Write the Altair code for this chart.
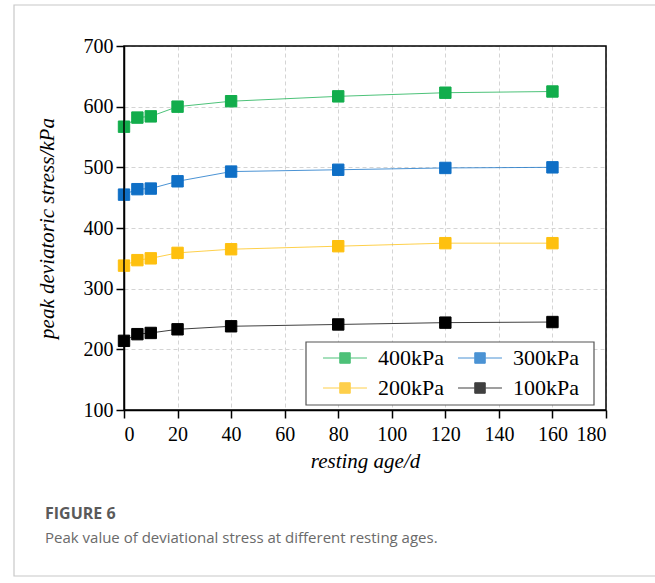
import altair as alt
import pandas as pd

# Resting age (days) and peak deviatoric stress (kPa) for each confining pressure
ages = [0, 5, 10, 20, 40, 80, 120, 160]
s400 = [567, 582, 584, 600, 609, 617, 623, 625]
s300 = [455, 464, 465, 477, 493, 496, 499, 500]
s200 = [338, 347, 350, 359, 365, 370, 375, 375]
s100 = [214, 225, 227, 233, 238, 241, 244, 245]

groups = ["400kPa", "300kPa", "200kPa", "100kPa"]
colors = ["#12ad4c", "#0f6fc6", "#fec00f", "#000000"]
series = [s400, s300, s200, s100]

caption_head = "FIGURE 6"
caption_body = "Peak value of deviational stress at different resting ages."

rows = []
for g, vals in zip(groups, series):
    for a, v in zip(ages, vals):
        rows.append({"age": a, "stress": v, "group": g})
df = pd.DataFrame(rows)

W, H = 482, 364
serif = "Liberation Serif"
sans = "Open Sans"

x = alt.X("age:Q", title="resting age/d",
          scale=alt.Scale(domain=[0, 180], nice=False),
          axis=alt.Axis(values=list(range(0, 181, 20)), format="d"))
y = alt.Y("stress:Q", title="peak deviatoric stress/kPa",
          scale=alt.Scale(domain=[100, 700], nice=False, zero=False),
          axis=alt.Axis(values=list(range(100, 701, 100))))

scale = alt.Scale(domain=groups, range=colors)

# line-through-square legend glyph
glyph = "M-3.14,0L-0.75,0M0.75,0L3.14,0M-0.75,-0.75L0.75,-0.75L0.75,0.75L-0.75,0.75Z"
legend = alt.Legend(
    title=None, orient="none", legendX=210, legendY=301,
    columns=2, direction="horizontal",
    symbolType=glyph, symbolSize=196, symbolStrokeWidth=1,
    labelFont=serif, labelFontSize=22, labelColor="black",
    labelOffset=22, columnPadding=12, rowPadding=8, padding=0,
)

lines = alt.Chart(df).mark_line(strokeWidth=1, opacity=0.75).encode(
    x=x, y=y,
    stroke=alt.Stroke("group:N", scale=scale, legend=legend),
    detail="group:N",
)

points = alt.Chart(df).mark_point(
    shape="square", filled=True, size=130, strokeWidth=1, opacity=1
).encode(
    x=x, y=y,
    fill=alt.Fill("group:N", scale=scale, legend=legend),
    stroke=alt.Stroke("group:N", scale=scale, legend=legend),
)

one = pd.DataFrame({"k": [0]})

# legend box behind the legend entries
legend_box = alt.Chart(one).mark_rect(fill="white", stroke="#555555", strokeWidth=1.2).encode(
    x=alt.value(182), x2=alt.value(470), y=alt.value(296), y2=alt.value(359)
)

# black frame of the plot area, drawn above the grid
frame = alt.Chart(one).mark_rect(fill=None, stroke="black", strokeWidth=1.5).encode(
    x=alt.value(0), x2=alt.value(W), y=alt.value(0), y2=alt.value(H)
)

# card outline around the figure and its caption
card = alt.Chart(one).mark_rect(fill=None, stroke="#c8c8c8", strokeWidth=1.2).encode(
    x=alt.value(-110), x2=alt.value(700), y=alt.value(-41), y2=alt.value(530)
)

head = alt.Chart(pd.DataFrame({"t": [caption_head]})).mark_text(
    align="left", baseline="alphabetic", font=sans, fontSize=16,
    fontWeight="bold", color="#5a5a5a"
).encode(text="t:N", x=alt.value(-79), y=alt.value(473))

body = alt.Chart(pd.DataFrame({"t": [caption_body]})).mark_text(
    align="left", baseline="alphabetic", font=sans, fontSize=15, color="#6a6a6a"
).encode(text="t:N", x=alt.value(-79), y=alt.value(497))

chart = alt.layer(card, legend_box, lines, points, frame, head, body).properties(
    width=W, height=H,
    autosize=alt.AutoSizeParams(type="none"),
    padding={"left": 124, "top": 46, "right": 49, "bottom": 173},
).configure_view(
    stroke=None
).configure_axis(
    labelFont=serif, labelFontSize=20, labelColor="black",
    titleFont=serif, titleFontSize=21, titleFontStyle="italic", titleFontWeight="normal",
    titleColor="black",
    domainColor="black", domainWidth=1.5, tickColor="black", tickWidth=1.5, tickSize=8,
    grid=True, gridColor="#d4d4d4", gridDash=[4, 3], gridWidth=1,
).configure_axisX(
    labelPadding=6, titlePadding=6,
).configure_axisY(
    labelPadding=3, titlePadding=26,
)

chart.save("out.html", embed_options={"renderer": "svg", "actions": False})
